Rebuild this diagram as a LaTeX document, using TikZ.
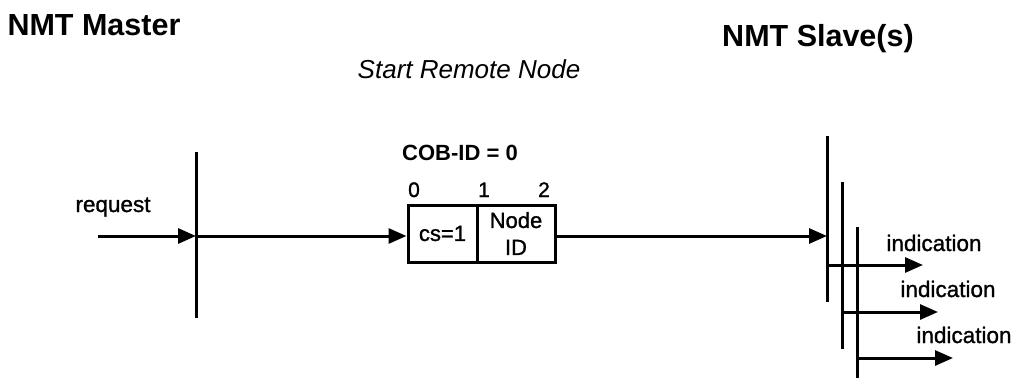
\documentclass[tikz,border=0pt]{standalone}
\usepackage{fontspec}
\setmainfont{Liberation Sans}
\newfontfamily\heavyfont[FakeBold=1.2]{Liberation Sans}
\usetikzlibrary{arrows.meta}
\begin{document}
\begin{tikzpicture}[x=1pt,y=-1pt,
  life/.style={line width=3pt},
  msg/.style={line width=3pt,-{Triangle[length=18pt,width=15pt]}},
  title/.style={anchor=base,inner sep=0pt,font=\fontsize{30.5}{32}\selectfont\bfseries},
  sub/.style={anchor=base,inner sep=0pt,font=\fontsize{26}{28}\selectfont\itshape},
  cob/.style={anchor=base,inner sep=0pt,font=\fontsize{22}{24}\selectfont\bfseries},
  lbl/.style={anchor=base,inner sep=0pt,font=\heavyfont\fontsize{22.5}{24}\selectfont},
  num/.style={anchor=base,inner sep=0pt,font=\heavyfont\fontsize{21}{22}\selectfont},
  field/.style={draw,line width=3pt,inner sep=0pt,align=center,font=\heavyfont\fontsize{22}{27}\selectfont}]
\useasboundingbox (0,0) rectangle (1013,388);
% titles
\node[title] (tmaster) at (94,35) {NMT Master};
\node[title] (tslave) at (818,46) {NMT Slave(s)};
\node[sub] (tsrn) at (469,78) {Start Remote Node};
\node[cob] (tcob) at (460,160) {COB-ID = 0};
% master lifeline
\coordinate (mtop) at (196,152);
\coordinate (mbot) at (196,318);
\coordinate (mhit) at (196,236);
\draw[life] (mtop) -- (mbot);
% request
\coordinate (reqs) at (98,236);
\node[lbl] (lreq) at (113,212) {request};
\draw[msg] (reqs) -- (mhit);
% frame box
\node[field,minimum width=69pt,minimum height=57pt] (fcs) at (442.5,233.5) {cs=1};
\node[field,minimum width=78pt,minimum height=57pt] (fnid) at (516,233.5) {Node\\ID};
\node[num] (n0) at (414,197) {0};
\node[num] (n1) at (484,197) {1};
\node[num] (n2) at (544,197) {2};
\draw[msg] (mhit) -- (mhit -| fcs.west);
% slave lifelines
\coordinate (s1top) at (827,136);
\coordinate (s1bot) at (827,302);
\coordinate (s2top) at (842,182);
\coordinate (s2bot) at (842,349);
\coordinate (s3top) at (857,227);
\coordinate (s3bot) at (857,378);
\draw[life] (s1top) -- (s1bot);
\draw[life] (s2top) -- (s2bot);
\draw[life] (s3top) -- (s3bot);
\coordinate (shit) at (827,236);
\draw[msg] (shit -| fnid.east) -- (shit);
% indications
\coordinate (i1s) at (827,265);
\coordinate (i1e) at (923,265);
\coordinate (i2s) at (842,312);
\coordinate (i2e) at (938,312);
\coordinate (i3s) at (857,358);
\coordinate (i3e) at (953,358);
\draw[msg] (i1s) -- (i1e);
\draw[msg] (i2s) -- (i2e);
\draw[msg] (i3s) -- (i3e);
\node[lbl] (li1) at (934,251) {indication};
\node[lbl] (li2) at (948,297) {indication};
\node[lbl] (li3) at (964,343) {indication};
\end{tikzpicture}
\end{document}
